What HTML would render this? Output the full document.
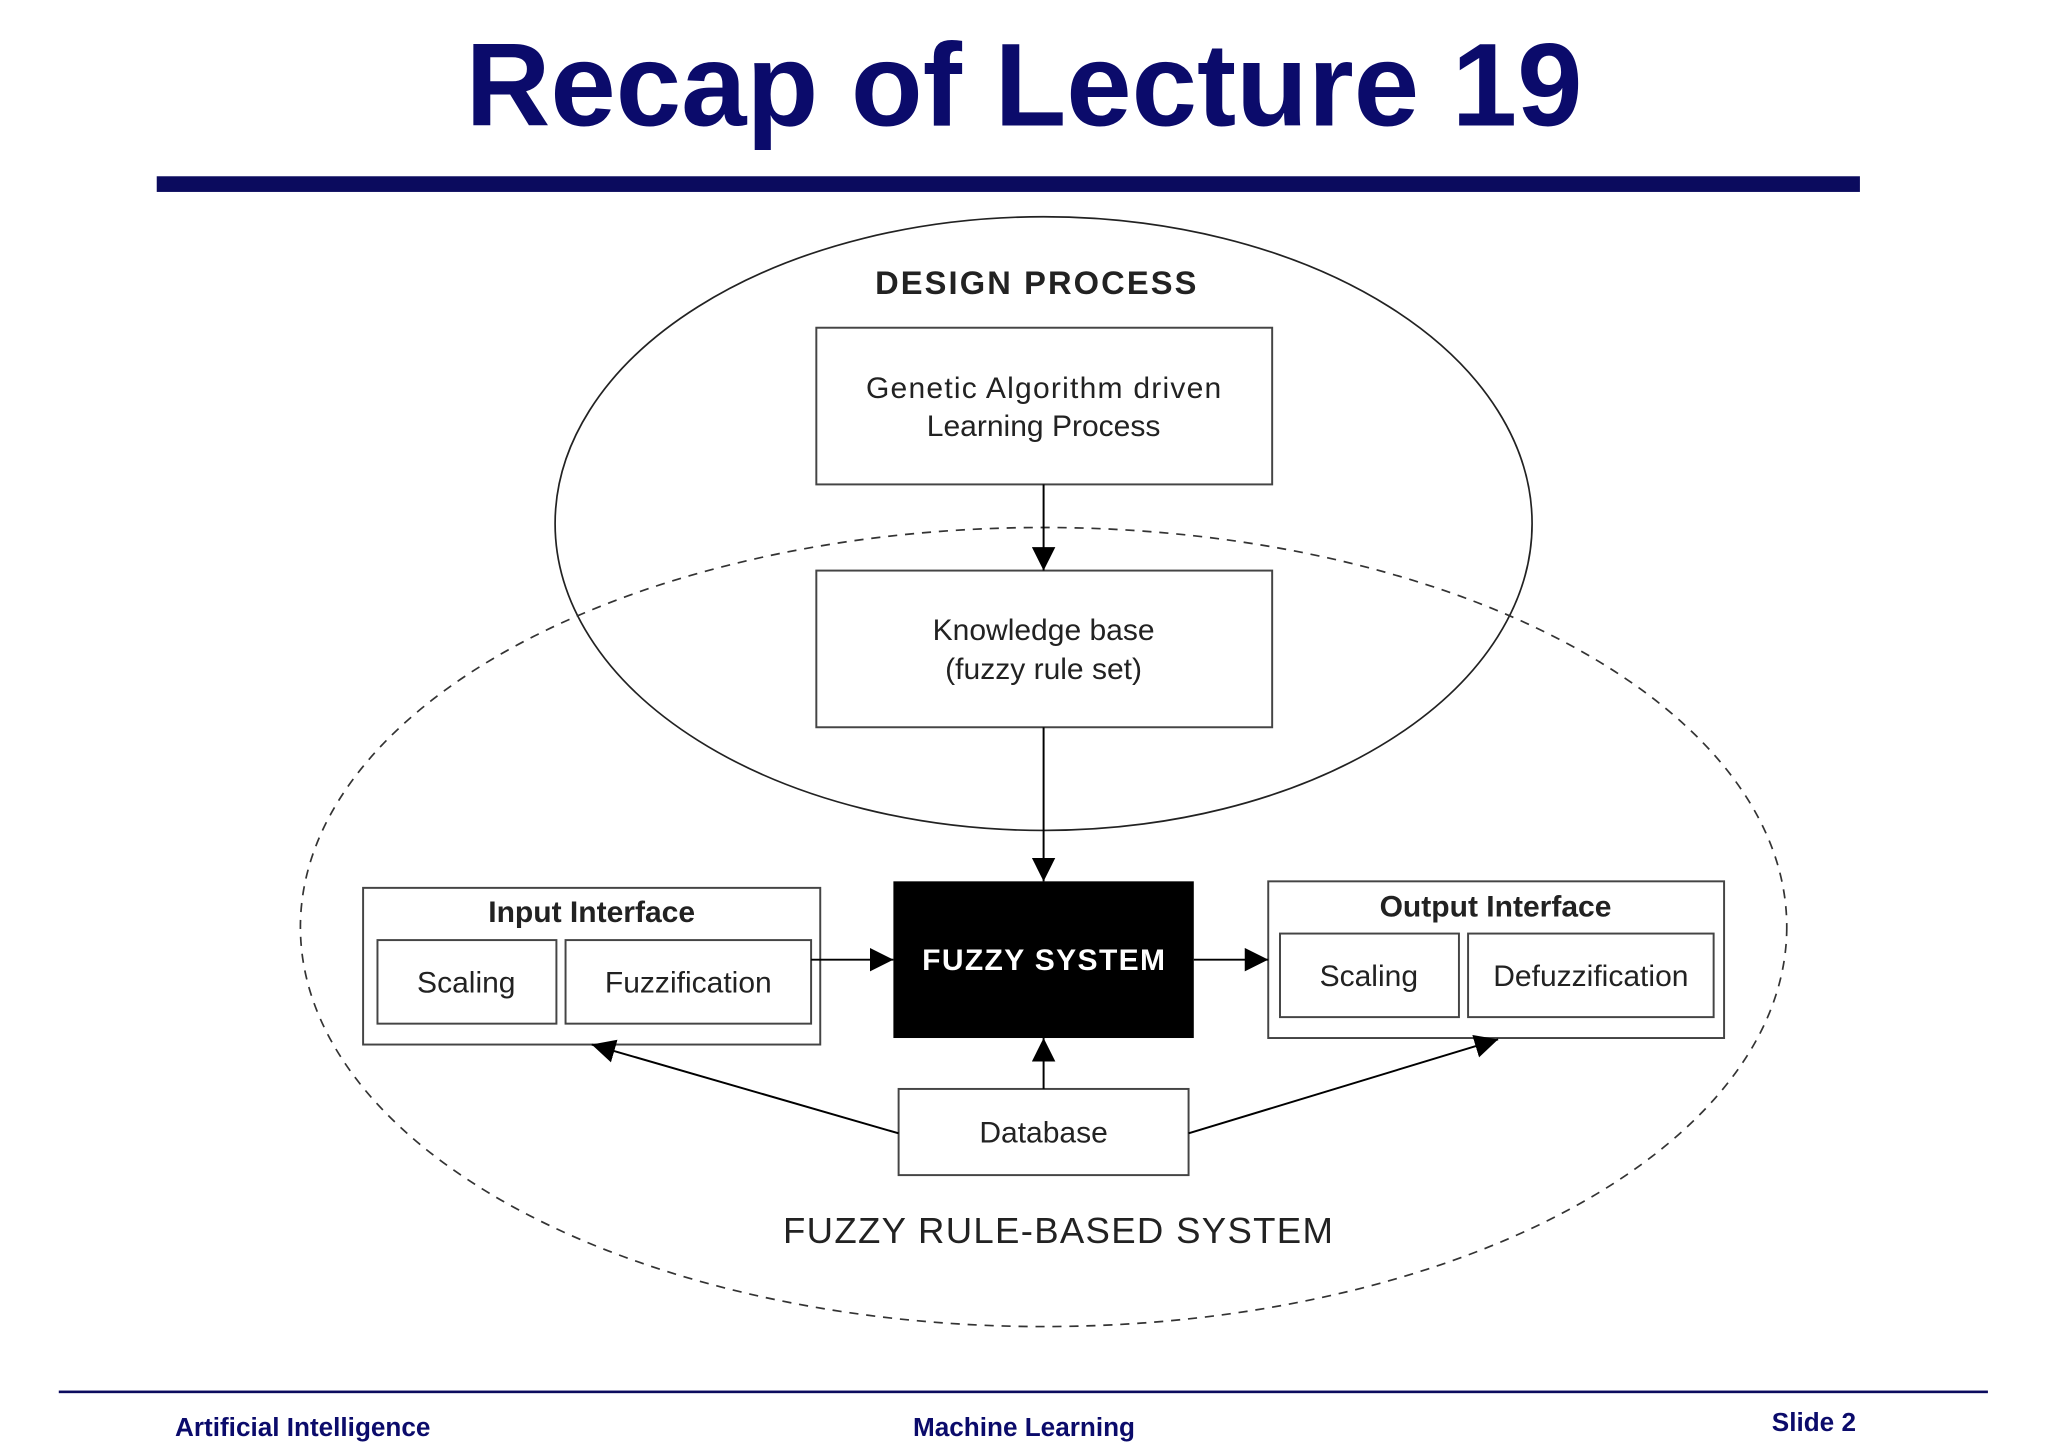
<!DOCTYPE html>
<html><head><meta charset="utf-8"><style>
html,body{margin:0;padding:0;background:#fff;}
svg{display:block;}
text{font-family:"Liberation Sans",sans-serif;}
</style></head><body>
<svg width="2048" height="1448" viewBox="0 0 1568 1109" preserveAspectRatio="none" xmlns="http://www.w3.org/2000/svg">
<defs><marker id="a" viewBox="0 0 10 10" refX="10" refY="5" markerWidth="18" markerHeight="18" markerUnits="userSpaceOnUse" orient="auto"><path d="M0,0 L10,5 L0,10 z" fill="#000"/></marker></defs>
<rect width="1568" height="1109" fill="#fff"/>
<text x="784" y="96" text-anchor="middle" font-size="90" font-weight="bold" fill="#0b0b6b">Recap of Lecture 19</text>
<rect x="120" y="135" width="1304" height="12" fill="#0b0b5e"/>
<ellipse cx="799" cy="401" rx="374" ry="235" fill="none" stroke="#222" stroke-width="1.3"/>
<ellipse cx="799" cy="710" rx="569" ry="306" fill="none" stroke="#333" stroke-width="1.3" stroke-dasharray="7,6"/>
<text x="793" y="225" text-anchor="middle" font-size="25" font-weight="bold" fill="#222" textLength="246">DESIGN PROCESS</text>
<g fill="#fff" stroke="#444" stroke-width="1.5">
<rect x="625" y="251" width="349" height="120"/>
<rect x="625" y="437" width="349" height="120"/>
<rect x="278" y="680" width="350" height="120"/>
<rect x="289" y="720" width="137" height="64"/>
<rect x="433" y="720" width="188" height="64"/>
<rect x="971" y="675" width="349" height="120"/>
<rect x="980" y="715" width="137" height="64"/>
<rect x="1124" y="715" width="188" height="64"/>
<rect x="688" y="834" width="222" height="66"/>
</g>
<rect x="684" y="675" width="230" height="120" fill="#000"/>
<g font-size="23" fill="#222" text-anchor="middle">
<text x="799" y="305" textLength="272">Genetic Algorithm driven</text>
<text x="799" y="334">Learning Process</text>
<text x="799" y="490">Knowledge base</text>
<text x="799" y="520">(fuzzy rule set)</text>
<text x="357" y="760">Scaling</text>
<text x="527" y="760">Fuzzification</text>
<text x="1048" y="755">Scaling</text>
<text x="1218" y="755">Defuzzification</text>
<text x="799" y="875">Database</text>
<text x="453" y="706" font-weight="bold">Input Interface</text>
<text x="1145" y="702" font-weight="bold">Output Interface</text>
<text x="810" y="952" font-size="28" textLength="421">FUZZY RULE-BASED SYSTEM</text>
</g>
<text x="799" y="743" text-anchor="middle" font-size="23" font-weight="bold" fill="#fff" textLength="186">FUZZY SYSTEM</text>
<g stroke="#000" stroke-width="1.5" fill="none" marker-end="url(#a)">
<line x1="799" y1="371" x2="799" y2="437"/>
<line x1="799" y1="557" x2="799" y2="675"/>
<line x1="621" y1="735" x2="684" y2="735"/>
<line x1="914" y1="735" x2="971" y2="735"/>
<line x1="799" y1="834" x2="799" y2="795"/>
<line x1="688" y1="868" x2="453" y2="800"/>
<line x1="910" y1="868" x2="1147" y2="796"/>
</g>
<rect x="45" y="1065" width="1477" height="2" fill="#0b0b5e"/>
<g font-size="20" font-weight="bold" fill="#0b0b6b">
<text x="134" y="1100">Artificial Intelligence</text>
<text x="784" y="1100" text-anchor="middle">Machine Learning</text>
<text x="1421" y="1096" text-anchor="end">Slide 2</text>
</g>
</svg>
</body></html>
